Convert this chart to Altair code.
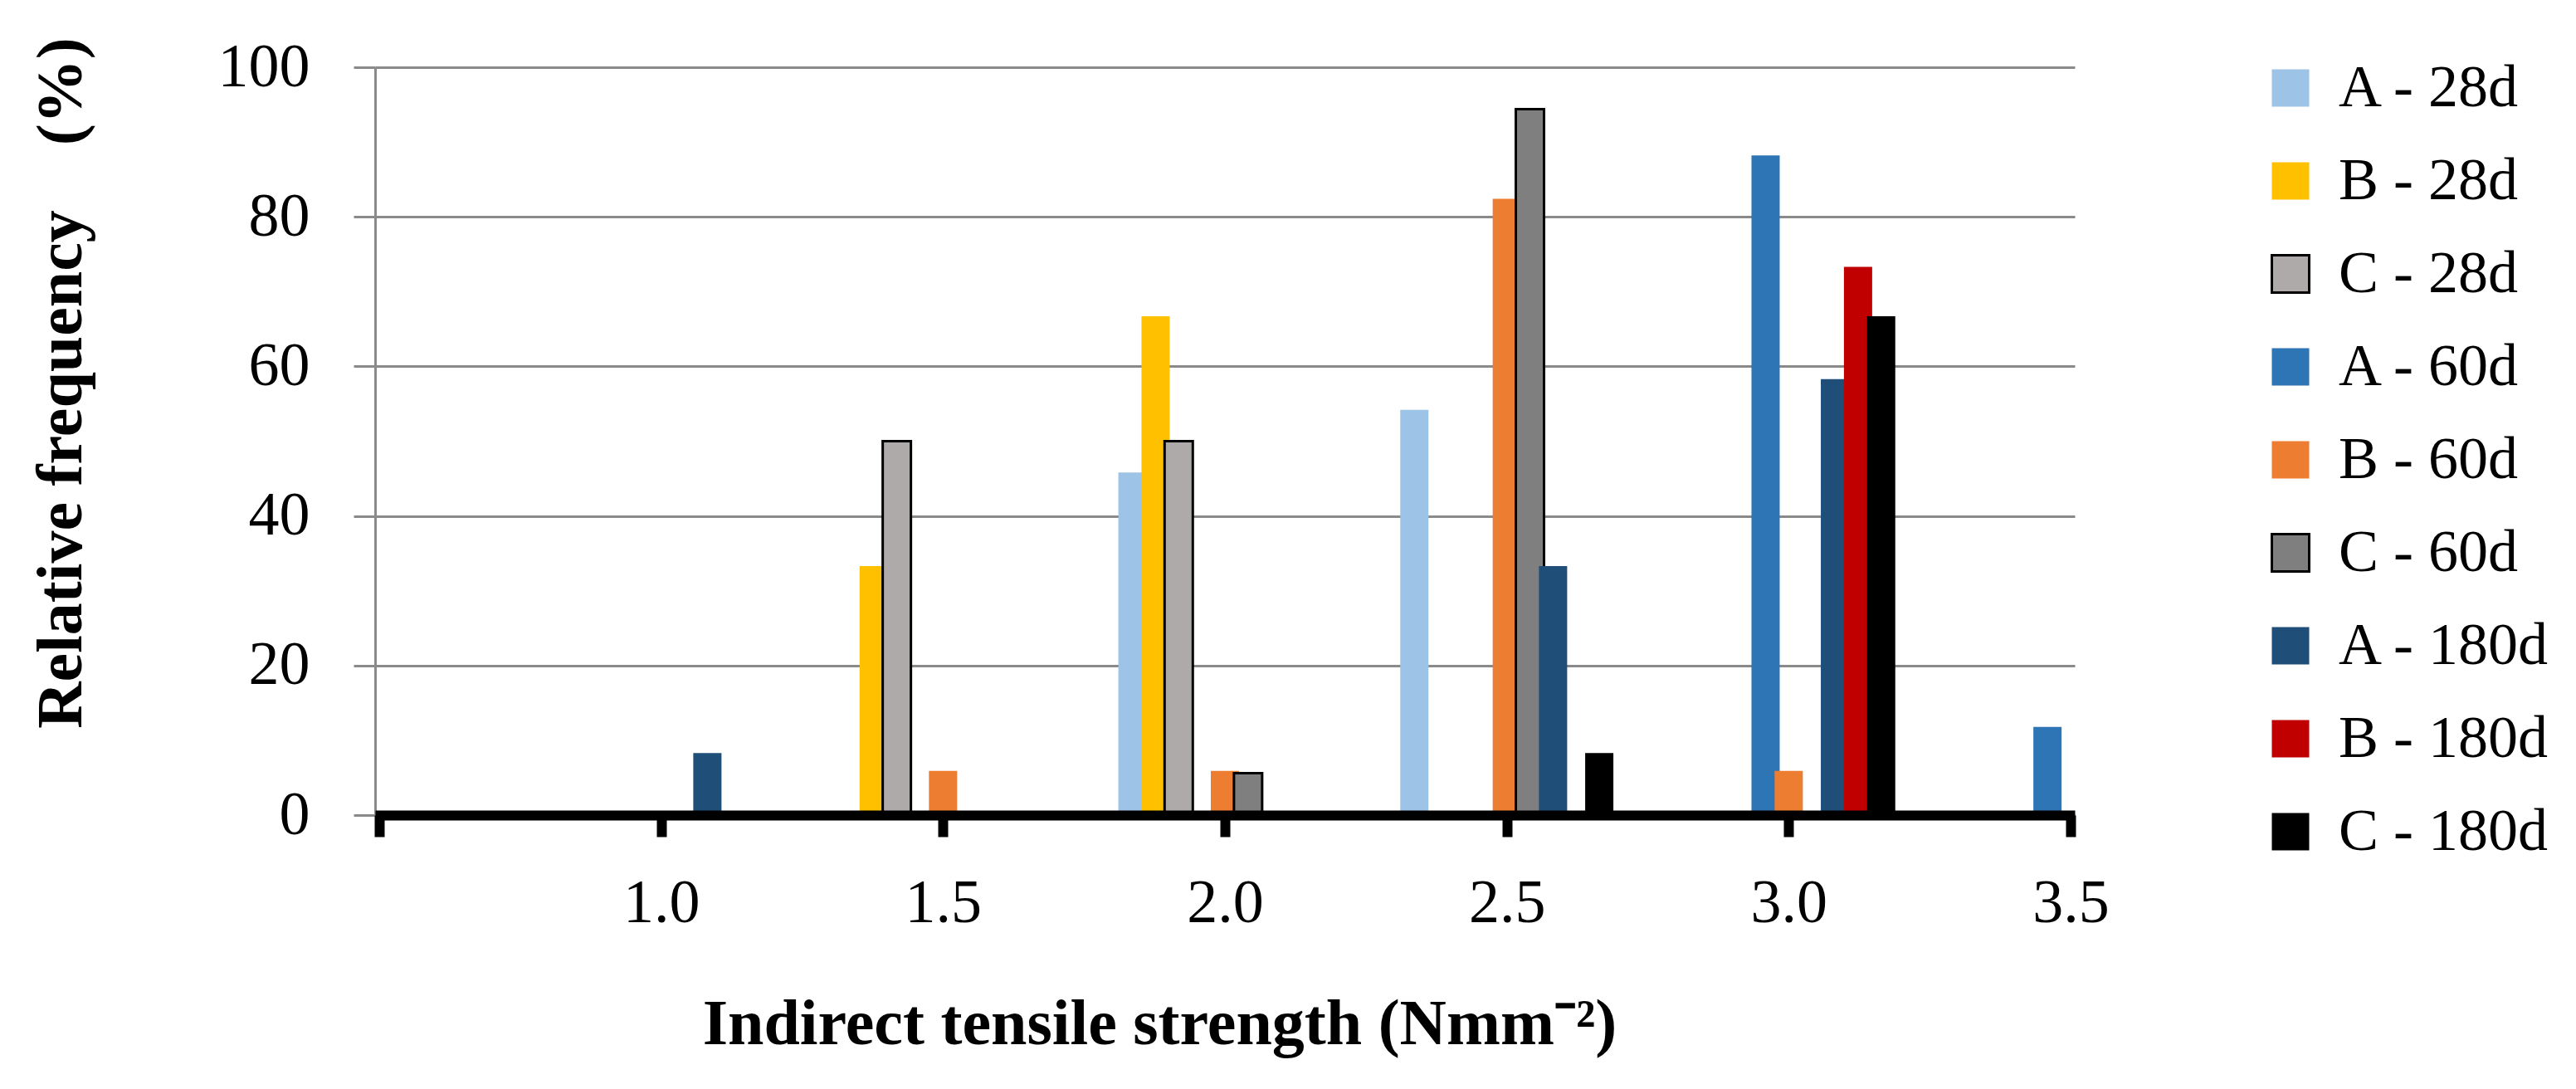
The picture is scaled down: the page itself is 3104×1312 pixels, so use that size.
import altair as alt
import pandas as pd

# ---- data ----
categories = [1.0, 1.5, 2.0, 2.5, 3.0, 3.5]
series = ["A - 28d", "B - 28d", "C - 28d",
          "A - 60d", "B - 60d", "C - 60d",
          "A - 180d", "B - 180d", "C - 180d"]

a_28d = [0, 0, 45.8, 54.2, 0, 0]
b_28d = [0, 33.3, 66.7, 0, 0, 0]
c_28d = [0, 50.0, 50.0, 0, 0, 0]
a_60d = [0, 0, 0, 0, 88.2, 11.8]
b_60d = [0, 5.9, 5.9, 82.4, 5.9, 0]
c_60d = [0, 0, 5.6, 94.4, 0, 0]
a_180d = [8.3, 0, 0, 33.3, 58.3, 0]
b_180d = [0, 0, 0, 0, 73.3, 0]
c_180d = [0, 0, 0, 8.3, 66.7, 0]

values = [a_28d, b_28d, c_28d, a_60d, b_60d, c_60d, a_180d, b_180d, c_180d]

colors = ["#9DC3E6", "#FFC000", "#AEAAAA",
          "#2E75B6", "#ED7D31", "#7F7F7F",
          "#1F4E79", "#C00000", "#000000"]
outlines = ["transparent", "transparent", "#000000",
            "transparent", "transparent", "#000000",
            "transparent", "transparent", "transparent"]

y_ticks = [0, 20, 40, 60, 80, 100]
x_ticks = [0.5, 1.0, 1.5, 2.0, 2.5, 3.0, 3.5]

rows = []
for s_i, (name, vals) in enumerate(zip(series, values)):
    for c, v in zip(categories, vals):
        if v > 0:
            rows.append({"series": name, "idx": s_i, "category": c, "freq": v})
df = pd.DataFrame(rows)

FONT = "Liberation Serif"
GRID = "#8a8a8a"
STEP = 0.041  # spacing between series within a group, in x units

legend = alt.Legend(
    orient="none", legendX=2272, legendY=-11,
    symbolType="square", symbolSize=2025, symbolStrokeWidth=3,
    labelFont=FONT, labelFontSize=72, labelColor="black",
    labelOffset=22, rowPadding=40, padding=0, labelLimit=0,
    labelExpr="indexof(['B - 28d', 'C - 28d'], datum.label) >= 0 ? datum.label : '\u00a0' + datum.label",
)

bars = alt.Chart(df).transform_calculate(
    xpos=f"datum.category + (datum.idx - 4) * {STEP}"
).mark_bar(size=34, orient="vertical", strokeWidth=3).encode(
    x=alt.X(
        "xpos:Q",
        scale=alt.Scale(domain=[0.5, 3.5], nice=False, zero=False),
        axis=alt.Axis(
            values=x_ticks,
            labelExpr="datum.value < 0.75 ? '' : format(datum.value, '.1f')",
            title="Indirect tensile strength (Nmm\u207b\u00b2)",
            grid=False,
            domainColor="black", domainWidth=12,
            tickColor="black", tickWidth=12, tickSize=26,
            labelFont=FONT, labelFontSize=74, labelColor="black",
            labelPadding=44, labelFlush=False, labelOverlap=False,
            titleFont=FONT, titleFontWeight="bold", titleFontSize=78,
            titleColor="black",
            titleX=945, titleY=275, titleBaseline="alphabetic", titleAlign="center",
            zindex=1,
        ),
    ),
    y=alt.Y(
        "freq:Q",
        stack=False,
        scale=alt.Scale(domain=[0, 100], nice=False),
        axis=alt.Axis(
            values=y_ticks,
            title="Relative frequency\u00a0\u00a0\u00a0\u00a0(%)",
            grid=True, gridColor=GRID, gridWidth=3,
            domainColor=GRID, domainWidth=3,
            tickColor=GRID, tickWidth=3, tickSize=26,
            labelFont=FONT, labelFontSize=74, labelColor="black",
            labelPadding=53,
            titleFont=FONT, titleFontWeight="bold", titleFontSize=78,
            titleColor="black",
            titleAngle=270, titleX=-355, titleY=380,
            titleBaseline="alphabetic", titleAlign="center",
        ),
    ),
    fill=alt.Fill("series:N", scale=alt.Scale(domain=series, range=colors),
                  legend=legend, title=None),
    stroke=alt.Stroke("series:N", scale=alt.Scale(domain=series, range=outlines),
                      legend=legend, title=None),
)

chart = bars.properties(
    width=2048, height=901,
    autosize=alt.AutoSizeParams(type="none"),
    padding={"left": 444, "top": 73, "right": 596, "bottom": 308},
    background="white",
).configure_view(strokeWidth=0)

chart.save("out.html", embed_options={"renderer": "svg", "actions": False})
